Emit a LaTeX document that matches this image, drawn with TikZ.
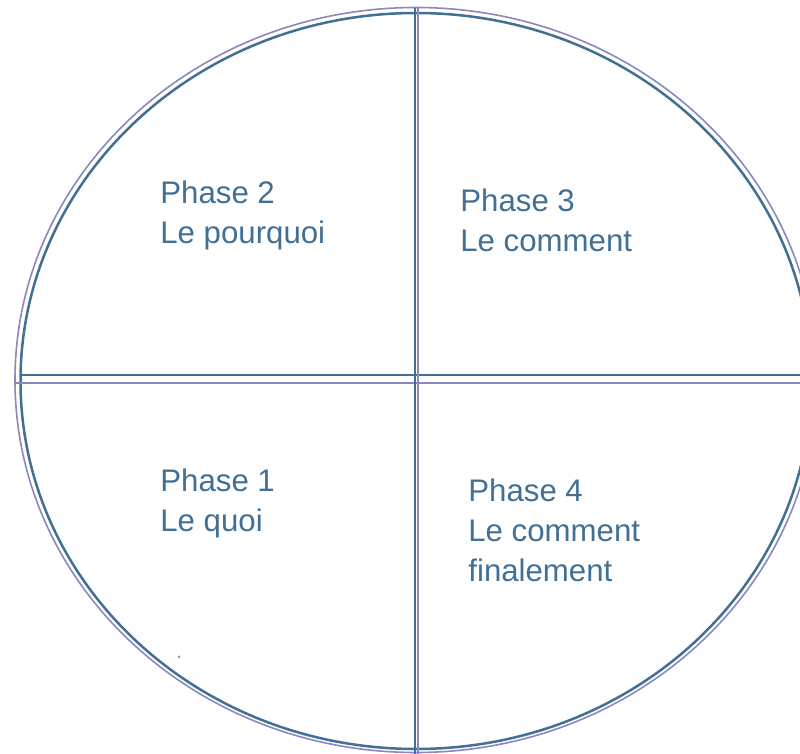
\documentclass[tikz,border=0pt]{standalone}
\usepackage{fontspec}
\setmainfont{Liberation Sans}
\definecolor{phaseblue}{RGB}{66,112,148}
\definecolor{rimlilac}{RGB}{138,136,190}

\begin{document}
\begin{tikzpicture}[x=0.5pt,y=-0.5pt,
  phase/.style={anchor=north west,inner sep=0pt,align=left,
    color=phaseblue,font=\fontsize{15.6}{20}\selectfont},
  darkline/.style={draw=phaseblue,line width=1.25pt},
  lightline/.style={draw=rimlilac,line width=0.8pt}]
  \useasboundingbox (0,0) rectangle (800,754);
  \clip (0,0) rectangle (800,754);
  \fill[color=white] (0,0) rectangle (800,754);
  % rim
  \draw[lightline] (416,380) ellipse [x radius=401,y radius=372.5];
  \draw[darkline] (416,381) ellipse [x radius=395.5,y radius=368];
  % cross
  \draw[darkline] (20,375) -- (800,375);
  \draw[lightline,line width=1pt] (15,383) -- (800,383);
  \draw[draw=phaseblue,line width=0.8pt] (415,8) -- (415,754);
  \draw[lightline,line width=1pt] (417.5,7) -- (417.5,754);
  % labels
  \node[phase] (ph2) at (160,180) {Phase 2\\Le pourquoi};
  \node[phase] (ph3) at (460,188) {Phase 3\\Le comment};
  \node[phase] (ph1) at (160,468) {Phase 1\\Le quoi};
  \node[phase] (ph4) at (468,478) {Phase 4\\Le comment\\finalement};
  \fill[color=phaseblue!70] (179,657) circle [radius=1.5];
\end{tikzpicture}
\end{document}
